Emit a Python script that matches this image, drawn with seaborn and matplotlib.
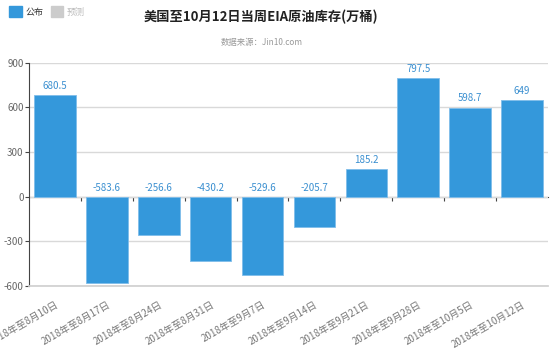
import matplotlib
matplotlib.use("Agg")
import matplotlib.pyplot as plt
import seaborn as sns
import pandas as pd
from matplotlib.patches import Patch

categories = ["2018年至8月10日", "2018年至8月17日", "2018年至8月24日", "2018年至8月31日",
              "2018年至9月7日", "2018年至9月14日", "2018年至9月21日", "2018年至9月28日",
              "2018年至10月5日", "2018年至10月12日"]
values = [680.5, -583.6, -256.6, -430.2, -529.6, -205.7, 185.2, 797.5, 598.7, 649]
value_labels = ["680.5", "-583.6", "-256.6", "-430.2", "-529.6", "-205.7", "185.2", "797.5", "598.7", "649"]
yticks = [-600, -300, 0, 300, 600, 900]

sns.set_theme(style="white")
plt.rcParams['font.family'] = ['Noto Sans CJK SC', 'DejaVu Sans']

BLUE = "#3498db"
df = pd.DataFrame({"date": categories, "value": values})

fig = plt.figure(figsize=(5.5, 3.53), dpi=100)
ax = fig.add_axes([0.053, 0.19, 0.943, 0.632])
sns.barplot(data=df, x="date", y="value", color=BLUE, saturation=1, width=0.8,
            edgecolor="#7fbdea", linewidth=0.6, ax=ax, zorder=3)

ymin, ymax = -600, 900
ax.set_ylim(ymin, ymax)
ax.set_xlim(-0.5, len(categories) - 0.5)
ax.set_yticks(yticks)
ax.set_yticklabels([str(t) for t in yticks], fontsize=7, color="#666666")
ax.yaxis.grid(True, color="#d9d9d9", linewidth=1, zorder=0)
ax.set_xlabel("")
ax.set_ylabel("")
for s in ["top", "right"]:
    ax.spines[s].set_visible(False)
ax.spines["left"].set_color("#444444")
ax.spines["left"].set_linewidth(0.8)
ax.spines["bottom"].set_color("#d0d0d0")
ax.tick_params(axis="y", left=True, length=3, width=0.8, color="#444444", pad=1)
ax.tick_params(axis="x", bottom=False, pad=4)
ax.set_xticks(range(len(categories)))
ax.set_xticklabels(categories, rotation=30, ha="right", rotation_mode="anchor",
                   fontsize=7, color="#777777")

# zero axis line with category boundary ticks
zero_loc = (0 - ymin) / (ymax - ymin)
sec = ax.secondary_xaxis(zero_loc)
sec.spines["bottom"].set_color("#444444")
sec.spines["bottom"].set_linewidth(0.8)
sec.set_xticks([i + 0.5 for i in range(len(categories) - 1)])
sec.set_xticklabels([])
sec.tick_params(axis="x", length=3, width=0.8, color="#444444", direction="out")

for i, (v, lab) in enumerate(zip(values, value_labels)):
    ax.annotate(lab, (i, max(v, 0)), xytext=(0, 3), textcoords="offset points",
                ha="center", va="bottom", fontsize=7, color="#3a8fd0", zorder=4)

fig.text(0.475, 0.952, "美国至10月12日当周EIA原油库存(万桶)", ha="center", va="center",
         fontsize=9.5, fontweight="bold", color="#222222")
fig.text(0.475, 0.88, "数据来源：Jin10.com", ha="center", va="center",
         fontsize=6, color="#999999")

handles = [Patch(facecolor=BLUE, edgecolor=BLUE), Patch(facecolor="#cccccc", edgecolor="#cccccc")]
leg = fig.legend(handles, ["公布", "预测"], loc="upper left", bbox_to_anchor=(0.005, 1.0),
                 ncol=2, frameon=False, fontsize=6.5, handlelength=1.4, handleheight=1.4,
                 handletextpad=0.4, columnspacing=0.8, borderaxespad=0.3)
for t, c in zip(leg.get_texts(), ["#333333", "#bbbbbb"]):
    t.set_color(c)

fig.savefig("out.png", dpi=100)
